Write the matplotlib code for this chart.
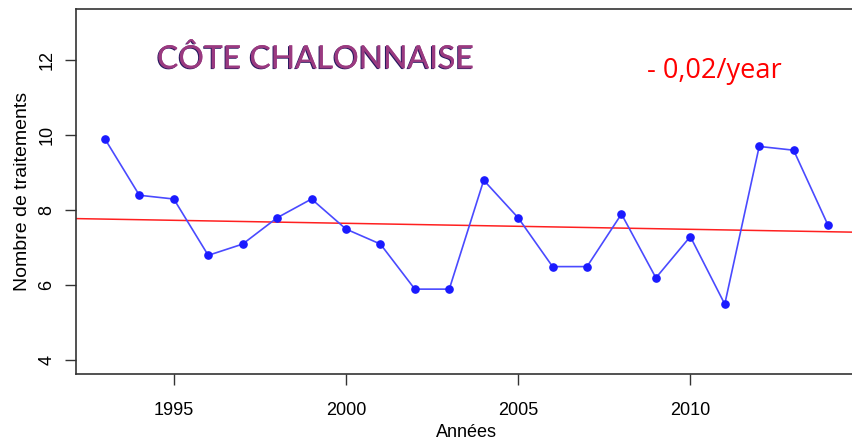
import numpy as np
import matplotlib
matplotlib.use("Agg")
import matplotlib.pyplot as plt
import matplotlib.patheffects as pe

years = list(range(1993, 2015))
values = [9.9, 8.4, 8.3, 6.8, 7.1, 7.8, 8.3, 7.5, 7.1, 5.9, 5.9,
          8.8, 7.8, 6.5, 6.5, 7.9, 6.2, 7.3, 5.5, 9.7, 9.6, 7.6]
x_ticks = [1995, 2000, 2005, 2010]
y_ticks = [4, 6, 8, 10, 12]
trend_year0 = 1993
trend_value0 = 7.765
trend_slope = -0.016
title = "CÔTE CHALONNAISE"
trend_text = "- 0,02/year"

W, H = 853, 442
fig = plt.figure(figsize=(W / 100, H / 100), dpi=100)
ax = fig.add_axes([76 / W, (H - 374) / H, (857 - 76) / W, (374 - 9) / H])

ax.plot(years, values, color="#4a4aff", lw=1.2, zorder=3)
ax.plot(years, values, ls="none", marker="o", ms=5.2, color="#1a1aff", zorder=4)

ax.axline((trend_year0, trend_value0), slope=trend_slope, color="#ff2020", lw=1.1, zorder=2)

ax.set_xlim(1992.16, 2014.84)
ax.set_ylim(3.64, 13.36)
ax.set_xticks(x_ticks)
ax.set_yticks(y_ticks)
ax.set_xticklabels([str(t) for t in x_ticks], fontsize=13, family="Liberation Sans")
ax.set_yticklabels([str(t) for t in y_ticks], fontsize=13, family="Liberation Sans",
                   rotation=90, va="center")
ax.tick_params(axis="both", length=8, width=1, color="#333333")
ax.tick_params(axis="x", pad=12)
ax.tick_params(axis="y", pad=7)
for s in ax.spines.values():
    s.set_color("#333333")
    s.set_linewidth(1.2)

ax.set_xlabel("Années", fontsize=13, family="Liberation Sans", labelpad=4)
ax.set_ylabel("Nombre de traitements", fontsize=14, family="Liberation Sans", labelpad=5)

fig.text(157 / W, 1 - 59 / H, title, fontsize=23, family="Lato", color="#9a3a80",
         va="center", ha="left",
         path_effects=[pe.withSimplePatchShadow(offset=(-0.8, -0.6), shadow_rgbFace="#2a1a60", alpha=1.0),
                       pe.Normal()])
fig.text(647 / W, 1 - 71 / H, trend_text, fontsize=19.5, family="Open Sans", color="#ff0000",
         va="center", ha="left")

fig.savefig("out.png", dpi=100)
